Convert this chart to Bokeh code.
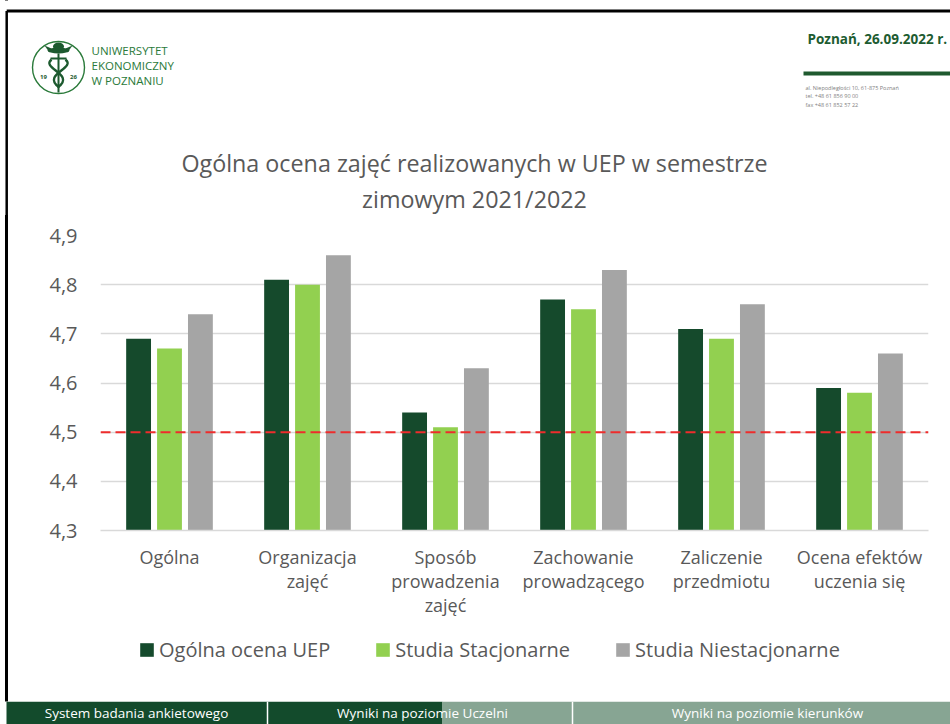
from bokeh.plotting import figure
from bokeh.models import (FactorRange, Range1d, FixedTicker, CustomJSTickFormatter, Span,
                          Legend, LegendItem, ColumnDataSource, Spacer)
from bokeh.transform import dodge
from bokeh.layouts import column, row
from bokeh.embed import file_html
from bokeh.resources import INLINE
from bokeh.core.properties import value

# ---------------- data ----------------
categories = ["Ogólna", "Organizacja\nzajęć", "Sposób\nprowadzenia\nzajęć",
              "Zachowanie\nprowadzącego", "Zaliczenie\nprzedmiotu", "Ocena efektów\nuczenia się"]
ogolna_uep = [4.69, 4.81, 4.54, 4.77, 4.71, 4.59]
studia_stacjonarne = [4.67, 4.80, 4.51, 4.75, 4.69, 4.58]
studia_niestacjonarne = [4.74, 4.86, 4.63, 4.83, 4.76, 4.66]
series_names = ["Ogólna ocena UEP", "Studia Stacjonarne", "Studia Niestacjonarne"]
threshold = 4.5
y_ticks = [4.3, 4.4, 4.5, 4.6, 4.7, 4.8, 4.9]
y_tick_labels = ["4,3", "4,4", "4,5", "4,6", "4,7", "4,8", "4,9"]
title_lines = ["Ogólna ocena zajęć realizowanych w UEP w semestrze", "zimowym 2021/2022"]
logo_lines = ["UNIWERSYTET", "EKONOMICZNY", "W POZNANIU"]
date_text = "Poznań, 26.09.2022 r."
address_lines = ["al. Niepodległości 10, 61-875 Poznań", "tel. +48 61 856 90 00", "fax +48 61 852 57 22"]
footer_labels = ["System badania ankietowego", "Wyniki na poziomie Uczelni", "Wyniki na poziomie kierunków"]

FONT = "Open Sans"
TXT = "#595959"
DARK = "#154a2c"
LIGHT = "#92d050"
GRAY = "#a5a5a5"
series_colors = [DARK, LIGHT, GRAY]


def blank(w, h, y_flip=True):
    f = figure(width=w, height=h, x_range=Range1d(0, w),
               y_range=Range1d(h, 0) if y_flip else Range1d(0, h),
               x_axis_type=None, y_axis_type=None, toolbar_location=None,
               output_backend="svg", min_border=0)
    f.outline_line_color = None
    return f

# ---------------- header ----------------
H = 215
hdr = blank(950, H)
hdr.segment(x0=[6.2, 6.2], y0=[10.5, 10.5], x1=[950, 6.2], y1=[10.5, H],
            line_color="black", line_width=[3, 2.5])
# logo
LG = "#2a7a3a"
LD = "#1d5a2f"
hdr.circle(x=[58], y=[67], radius=26, fill_color=None, line_color=LG, line_width=1.4)
hdr.ellipse(x=[58], y=[50], width=22, height=6, fill_color=LD, line_color=None)
hdr.ellipse(x=[58], y=[46], width=11, height=8, fill_color=LD, line_color=None)
hdr.patches(xs=[[44, 51, 49], [72, 65, 67]], ys=[[45, 48, 52], [45, 48, 52]],
            fill_color=LD, line_color=None)
hdr.segment(x0=[58, 50], y0=[53, 58], x1=[58, 66], y1=[92, 58], line_color=LD, line_width=2)
hdr.bezier(x0=[51, 65], y0=[59, 59], x1=[57, 59], y1=[87, 87],
           cx0=[40, 76], cy0=[68, 68], cx1=[76, 40], cy1=[74, 74],
           line_color=LD, line_width=2.4)
hdr.text(x=[43, 73], y=[76, 76], text=["19", "26"], text_font=value(FONT),
         text_font_size="6px", text_font_style="bold", text_color=LD,
         text_align="center", text_baseline="middle")
hdr.text(x=[91, 91, 91], y=[50, 65, 80], text=logo_lines, text_font=value(FONT),
         text_font_size="11.5px", text_color=LG, text_baseline="middle")
# date + address
hdr.text(x=[807], y=[38], text=[date_text], text_font=value(FONT), text_font_size="13.5px",
         text_font_style="bold", text_color="#1d5c31", text_baseline="middle")
hdr.quad(left=[803], right=[950], top=[71], bottom=[75], fill_color="#1f5a2f", line_color=None)
hdr.text(x=[805, 805, 805], y=[87, 95.5, 104], text=address_lines, text_font=value(FONT),
         text_font_size="5.5px", text_color="#808080", text_baseline="middle")
# chart title
hdr.text(x=[474, 474], y=[162, 198], text=title_lines, text_font=value(FONT),
         text_font_size="23.3px", text_color=TXT, text_align="center", text_baseline="middle")

# ---------------- chart ----------------
CH = 413
src = ColumnDataSource(dict(cat=categories, a=ogolna_uep, b=studia_stacjonarne,
                            c=studia_niestacjonarne))
p = figure(x_range=FactorRange(*categories), y_range=Range1d(4.3, 4.9),
           width=942, height=CH, output_backend="svg", toolbar_location=None,
           min_border_left=92, min_border_right=22, min_border_top=20, min_border_bottom=98)
p.outline_line_color = None
p.border_fill_color = None
off = 0.224
bw = 0.18
for col, dx, color in zip(["a", "b", "c"], [-off, 0, off], series_colors):
    p.vbar(x=dodge("cat", dx, range=p.x_range), top=col, bottom=4.3, width=bw,
           source=src, fill_color=color, line_color=None)

p.xgrid.visible = False
p.ygrid.ticker = FixedTicker(ticks=y_ticks)
p.ygrid.grid_line_color = "#d9d9d9"
p.ygrid.grid_line_width = 1.3

p.yaxis.ticker = FixedTicker(ticks=y_ticks)
p.yaxis.formatter = CustomJSTickFormatter(args=dict(tvals=y_ticks, tlabels=y_tick_labels), code="""
let best = 0;
for (let i = 0; i < tvals.length; i++) {
  if (Math.abs(tvals[i] - tick) < Math.abs(tvals[best] - tick)) best = i;
}
return tlabels[best];
""")
p.yaxis.axis_line_color = None
p.yaxis.major_tick_line_color = None
p.yaxis.minor_tick_line_color = None
p.yaxis.major_label_standoff = 17
p.yaxis.major_label_text_font = FONT
p.yaxis.major_label_text_font_size = "20px"
p.yaxis.major_label_text_color = TXT

p.xaxis.axis_line_color = "#d9d9d9"
p.xaxis.axis_line_width = 1.3
p.xaxis.major_tick_line_color = None
p.xaxis.major_tick_out = 0
p.xaxis.major_label_standoff = 14
p.xaxis.major_label_text_font = FONT
p.xaxis.major_label_text_font_size = "18px"
p.xaxis.major_label_text_color = TXT
p.xaxis.major_label_text_line_height = 1.0

p.add_layout(Span(location=threshold, dimension="width", line_color="#ee2c2c",
                  line_width=2, line_dash="10 5"))

# ---------------- legend strip (same series styles) ----------------
LH = 73
leg = figure(width=942, height=LH, x_range=Range1d(0, 1), y_range=Range1d(0, 1),
             x_axis_type=None, y_axis_type=None, toolbar_location=None, output_backend="svg",
             min_border_left=92, min_border_right=22, min_border_top=0, min_border_bottom=0)
leg.outline_line_color = None
leg.border_fill_color = None
# key swatches only: one point each, kept outside the visible range
leg_renderers = [leg.vbar(x=[-5], top=[-5], bottom=[-6], width=0.1, fill_color=c, line_color=None)
                 for c in series_colors]
legend = Legend(items=[LegendItem(label=n, renderers=[r], index=0)
                       for n, r in zip(series_names, leg_renderers)],
                orientation="horizontal", location=(38, 38.5), margin=0, padding=0,
                spacing=44, glyph_width=17, glyph_height=17, label_standoff=4,
                label_text_font=FONT, label_text_font_size="20px", label_text_color=TXT,
                border_line_color=None, background_fill_alpha=0)
leg.add_layout(legend)

edge = Spacer(width=8, height=CH + LH)

# ---------------- footer ----------------
FH = 23
ftr = blank(950, FH)
ftr.quad(left=[6, 442], right=[442, 950], top=[0, 0], bottom=[FH, FH],
         fill_color=["#134b2c", "#87a593"], line_color=None)
ftr.segment(x0=[267, 572], y0=[0, 0], x1=[267, 572], y1=[FH, FH], line_color="white", line_width=1.5)
ftr.text(x=[136, 422, 767], y=[11.5, 11.5, 11.5], text=footer_labels, text_font=value(FONT),
         text_font_size="13.5px", text_color="white", text_align="center", text_baseline="middle")

layout = column(hdr, row(edge, column(p, leg, spacing=0), spacing=0), ftr, spacing=0, styles={
    "background": "linear-gradient(to right, #fff 5px, #000 5px, #000 7.5px, #fff 7.5px)"})
open("out.html", "w").write(file_html(layout, INLINE))
